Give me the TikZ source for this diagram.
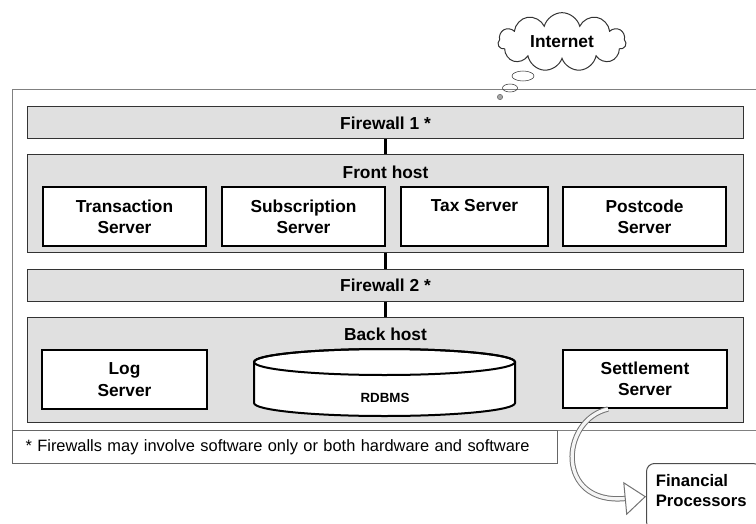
\documentclass[tikz,border=0pt]{standalone}
\usepackage{fontspec}
\setmainfont{Liberation Sans}
\usetikzlibrary{shapes.symbols,shapes.geometric,arrows.meta}

\begin{document}
\begin{tikzpicture}[x=0.75pt, y=0.75pt]
    \useasboundingbox (0,0) rectangle (756,-524);
    \clip (0,0) rectangle (756,-524);

    % Outer frame round the system.
    \draw [draw=black!50, line width=0.75pt] (12,-90) rectangle (762,-430);

    \begin{scope}[%
        every node/.style = {%
            font = \fontsize{13}{16}\selectfont\bfseries,
            align = center
        },
        fwall/.style = {%
            draw = black!80,
            fill = black!12,
            line width = 0.75pt,
            minimum width = 537pt,
            minimum height = 24pt
        },
        hostbox/.style = {%
            draw = black!80,
            fill = black!12,
            line width = 0.75pt,
            minimum width = 537pt
        },
        srvbox/.style = {%
            draw,
            fill = white,
            line width = 1.5pt,
            minimum width = 122.25pt,
            minimum height = 44.25pt,
            inner sep = 0pt
        }
    ]

        % Firewalls and hosts.
        \node (fwone) [fwall] at (385.5,-123) {Firewall 1 *};
        \node (front) [hostbox, minimum height = 72.75pt,
            label = {[anchor=center, yshift=-13.5pt]north:Front host}]
            at (385.5,-203.5) {};
        \node (fwtwo) [fwall] at (385.5,-285) {Firewall 2 *};
        \node (back) [hostbox, minimum height = 78.75pt,
            label = {[anchor=center, yshift=-13.5pt]north:Back host}]
            at (385.5,-369.5) {};

        % Servers of the front host.
        \node (trans) [srvbox] at (124.5,-216.5) {Transaction\\Server};
        \node (subs) [srvbox] at (303.5,-216.5) {Subscription\\Server};
        \node (tax) [srvbox, minimum width = 110.25pt] at (474.5,-216.5) {Tax Server\\\mbox{}};
        \node (post) [srvbox] at (644.5,-216.5) {Postcode\\Server};

        % Servers of the back host.
        \node (log) [srvbox, minimum width = 123.75pt] at (124.5,-379.5) {Log\\Server};
        \node (settle) [srvbox, minimum width = 123pt, minimum height = 43.5pt]
            at (645,-379) {Settlement\\Server};

        % Database.
        \draw [line width=1.5pt, fill=white] (254,-362) -- (254,-403)
            arc [start angle=180, end angle=360, x radius=97.875pt, y radius=9.75pt]
            -- (515,-362)
            arc [start angle=0, end angle=180, x radius=97.875pt, y radius=9.75pt]
            -- cycle;
        \draw [line width=1.5pt] (384.5,-362) ellipse [x radius=97.875pt, y radius=9.75pt];
        \node (rdbms) [font=\fontsize{10}{12}\selectfont\bfseries] at (385,-398) {RDBMS};

        % Internet cloud.
        \node (inet) [cloud, draw=black!80, line width=0.75pt, cloud puffs=11,
            aspect=2.2, minimum width=96pt, minimum height=44pt, inner sep=0pt]
            at (562,-42) {Internet};
        \node (bubone) [draw=black!80, ellipse, minimum width=16.5pt,
            minimum height=7.5pt, inner sep=0pt] at (523,-76) {};
        \node (bubtwo) [draw=black!80, ellipse, minimum width=11.25pt,
            minimum height=6pt, inner sep=0pt] at (510,-88) {};
        \node (bubdot) [draw=black!60, fill=black!35, circle, minimum size=4pt,
            inner sep=0pt] at (500,-97) {};

        % Financial processors.
        \node (fin) [draw=black!70, line width=0.75pt, rounded corners=6pt,
            anchor=north west, align=left, text width=72pt, inner xsep=7pt,
            inner ysep=4pt, text height=13.6pt, text depth=28pt,
            font=\fontsize{12.5}{15}\selectfont\bfseries]
            at (646,-463) {Financial\\Processors};
    \end{scope}

    % Footnote.
    \node (note) [draw=black!60, line width=0.75pt, anchor=north west,
        minimum width=408.75pt, minimum height=24.75pt, text width=389.25pt,
        inner xsep=9.75pt, align=left, font=\fontsize{12.3}{14}\selectfont]
        at (12,-430) {* Firewalls may involve software only or both hardware and software};

    \begin{scope}[%
        > = Triangle,
        every path/.style = {%
            line width = 2pt
        }
    ]

        % Links between the layers.
        \draw (fwone) -- (front);
        \draw (front) -- (fwtwo);
        \draw (fwtwo) -- (back);
    \end{scope}

    % Hand-off to the processors.
    \draw [draw=black!55, line width=0.75pt, double=black!4, double distance=2.5pt,
        -{Triangle[open, length=16pt, width=25pt, fill=white]}]
        ([xshift=-27.75pt]settle.south) .. controls (560,-420) and (555,-505) .. (fin.west);
\end{tikzpicture}
\end{document}
